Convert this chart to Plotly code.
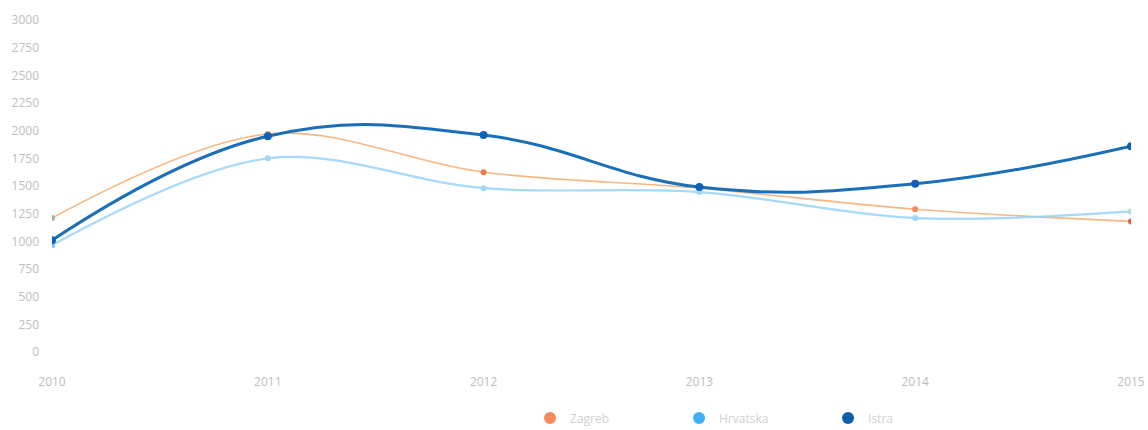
import plotly.graph_objects as go

years = [2010, 2011, 2012, 2013, 2014, 2015]
zagreb = [1210, 1970, 1625, 1480, 1290, 1180]
hrvatska = [965, 1750, 1480, 1445, 1210, 1270]
istra = [1010, 1950, 1960, 1490, 1520, 1860]
names = ["Zagreb", "Hrvatska", "Istra"]
y_ticks = [0, 250, 500, 750, 1000, 1250, 1500, 1750, 2000, 2250, 2500, 2750, 3000]

fig = go.Figure()

fig.add_trace(go.Scatter(
    x=years, y=zagreb, mode="lines+markers", showlegend=False,
    line=dict(color="rgba(244,170,110,0.85)", width=1.6, shape="spline", smoothing=1),
    marker=dict(size=6, color=["#a4b0a0", "#f08a5c", "#f07a52", "#f08a5c", "#f08a5c", "#ee5a48"]),
))
fig.add_trace(go.Scatter(
    x=years, y=hrvatska, mode="lines+markers", showlegend=False,
    line=dict(color="rgba(150,210,250,0.85)", width=2.2, shape="spline", smoothing=1),
    marker=dict(size=6, color=["#7cc6f5", "#9fd6f8", "#9fd6f8", "#9fd6f8", "#9fd6f8", "#9ee0d8"]),
))
fig.add_trace(go.Scatter(
    x=years, y=istra, mode="lines+markers", showlegend=False,
    line=dict(color="#1a6fb8", width=3, shape="spline", smoothing=1.2),
    marker=dict(size=8, color="#0d62b5"),
))

legend_colors = ["#f8895c", "#3fb0f5", "#0a5fb0"]
for n, c in zip(names, legend_colors):
    fig.add_trace(go.Scatter(
        x=[None], y=[None], mode="markers", name=n,
        marker=dict(size=12, color=c),
    ))

fig.update_layout(
    width=1148, height=430,
    margin=dict(l=52, r=17, t=20, b=78, autoexpand=False),
    paper_bgcolor="white", plot_bgcolor="white",
    font=dict(family="Open Sans, sans-serif", size=12, color="#c4c4c4"),
    xaxis=dict(
        tickmode="array", tickvals=years, ticktext=[str(y) for y in years],
        range=[2010, 2015], showgrid=False, zeroline=False, showline=False,
        ticks="", ticklabelstandoff=21, tickfont=dict(size=12, color="#bdbdbd"),
    ),
    yaxis=dict(
        tickmode="array", tickvals=y_ticks, range=[0, 3000],
        showgrid=False, zeroline=False, showline=False, ticks="",
        ticklabelstandoff=12, tickfont=dict(size=12, color="#c0c0c0"),
    ),
    legend=dict(
        orientation="h", x=0.4617, xref="container", xanchor="left",
        y=0.028, yref="container", yanchor="middle",
        entrywidth=104, entrywidthmode="pixels",
        font=dict(size=12, color="#d0d0d0"),
        itemsizing="trace",
    ),
)

fig.write_html("out.html")
